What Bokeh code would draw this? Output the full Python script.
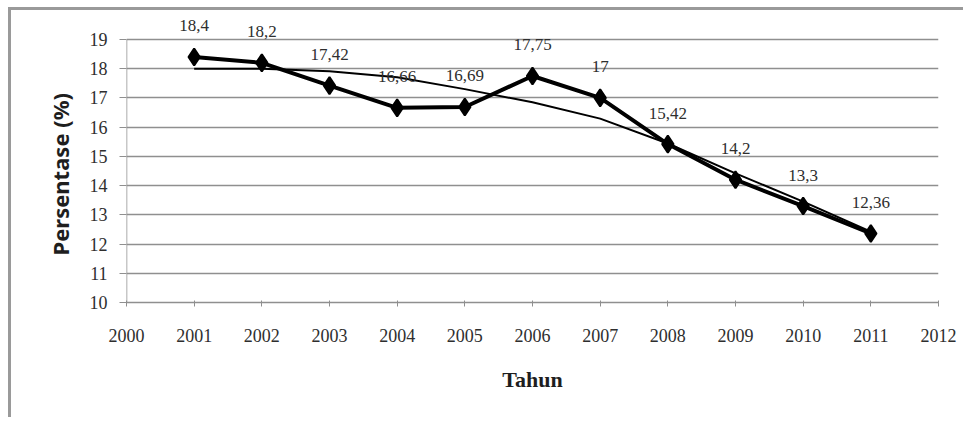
from bokeh.plotting import figure
from bokeh.models import ColumnDataSource, LabelSet, FixedTicker, Range1d, Title
from bokeh.embed import file_html
from bokeh.resources import INLINE

years = [2001, 2002, 2003, 2004, 2005, 2006, 2007, 2008, 2009, 2010, 2011]
persentase = [18.4, 18.2, 17.42, 16.66, 16.69, 17.75, 17.0, 15.42, 14.2, 13.3, 12.36]
trend = [18.0, 18.0, 17.91, 17.71, 17.3, 16.85, 16.29, 15.44, 14.42, 13.45, 12.42]
label_texts = ["18,4", "18,2", "17,42", "16,66", "16,69", "17,75", "17", "15,42", "14,2", "13,3", "12,36"]
x_ticks = list(range(2000, 2013))
y_ticks = list(range(10, 20))

# label offsets (style, pixels)
label_dy = [31] * len(years)

SERIF = "Liberation Serif"
AXIS_COLOR = "#8f8f8f"

p = figure(width=955, height=410, output_backend="svg", toolbar_location=None,
           x_range=Range1d(2000, 2012), y_range=Range1d(10, 19.99),
           min_border_left=115, min_border_right=28, min_border_top=0, min_border_bottom=118)
p.styles = {"margin-left": "8px", "margin-top": "7px",
            "border-top": "3px solid #9a9a9a", "border-left": "3px solid #9a9a9a"}
p.outline_line_color = None
p.background_fill_color = "white"
p.border_fill_color = "white"

p.xgrid.visible = False
p.ygrid.ticker = FixedTicker(ticks=y_ticks)
p.ygrid.grid_line_color = AXIS_COLOR
p.ygrid.grid_line_width = 1.5

p.xaxis.ticker = FixedTicker(ticks=x_ticks)
p.yaxis.ticker = FixedTicker(ticks=y_ticks)
for ax in (p.xaxis[0], p.yaxis[0]):
    ax.major_tick_line_color = AXIS_COLOR
    ax.minor_tick_line_color = None
    ax.major_label_text_font = SERIF
    ax.major_label_text_font_size = "18px"
    ax.major_label_text_color = "#2e2e2e"

p.xaxis.axis_line_color = AXIS_COLOR
p.xaxis.axis_line_width = 1.5
p.xaxis.major_tick_in = 2
p.xaxis.major_tick_out = 4
p.xaxis.major_label_standoff = 22
p.xaxis.axis_label = "Tahun"
p.xaxis.axis_label_text_font = SERIF
p.xaxis.axis_label_text_font_style = "bold"
p.xaxis.axis_label_text_color = "#1e1e1e"
p.xaxis.axis_label_text_font_size = "22px"
p.xaxis.axis_label_standoff = 22

p.yaxis.axis_line_color = None
p.yaxis.major_tick_in = 0
p.yaxis.major_tick_out = 7
p.yaxis.major_label_standoff = 12

ylab = Title(text="Persentase (%)", align="left", offset=47, standoff=23,
             text_font="Noto Sans", text_font_style="bold", text_font_size="22px",
             text_color="#1e1e1e")
p.add_layout(ylab, "left")

# vertical axis line only over the tick span
p.segment(x0=[x_ticks[0]], y0=[y_ticks[0]], x1=[x_ticks[0]], y1=[y_ticks[-1]],
          line_color=AXIS_COLOR, line_width=1.5)

src = ColumnDataSource(dict(x=years, y=persentase, t=trend, lab=label_texts, dy=label_dy))

p.line("x", "t", source=src, line_color="black", line_width=2)
p.line("x", "y", source=src, line_color="black", line_width=4)
p.scatter("x", "y", source=src, marker="diamond", size=17, fill_color="black",
          line_color="black", line_width=2)

labels = LabelSet(x="x", y="y", text="lab", source=src, y_offset="dy",
                  text_align="center", text_baseline="middle",
                  text_font=SERIF, text_font_size="17px", text_color="#2e2e2e")
p.add_layout(labels)

open("out.html", "w").write(file_html(p, INLINE))
